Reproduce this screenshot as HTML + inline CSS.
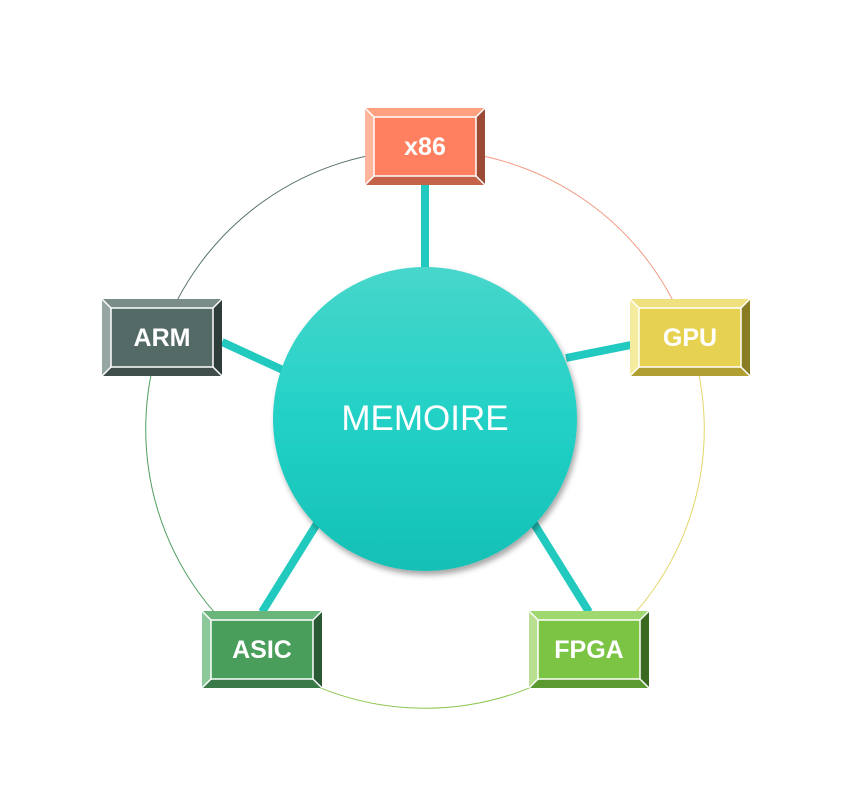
<!DOCTYPE html>
<html><head><style>body{margin:0;background:#fff}svg{display:block}</style></head><body>
<svg width="850" height="810" viewBox="0 0 850 810" xmlns="http://www.w3.org/2000/svg">
<defs>
<linearGradient id="cg" x1="0" y1="0" x2="0" y2="1"><stop offset="0" stop-color="#48d6cb"/><stop offset="0.5" stop-color="#22d1c6"/><stop offset="1" stop-color="#14c0b5"/></linearGradient>
<filter id="sh" x="-20%" y="-20%" width="140%" height="140%"><feDropShadow dx="2" dy="4" stdDeviation="3" flood-color="#000" flood-opacity="0.35"/></filter>
<g id="bev">
</g>
</defs>
<g fill="none" stroke-width="1">
<path d="M425,150 A279,279 0 0 1 689,338" stroke="#f29a82"/>
<path d="M689,338 A279,279 0 0 1 593,652" stroke="#e3d66a"/>
<path d="M593,652 A279,279 0 0 1 257,652" stroke="#8cc850"/>
<path d="M257,652 A279,279 0 0 1 161,338" stroke="#4f9e60"/>
<path d="M161,338 A279,279 0 0 1 425,150" stroke="#55706b"/>
</g>
<g stroke="#22c9be" stroke-width="8">
<line x1="425" y1="184" x2="425" y2="270"/>
<line x1="566" y1="358" x2="631" y2="345"/>
<line x1="533" y1="522" x2="589" y2="612"/>
<line x1="318" y1="522" x2="262" y2="612"/>
<line x1="222" y1="342" x2="285" y2="371"/>
</g>
<circle cx="425" cy="419" r="152" fill="url(#cg)" filter="url(#sh)"/>
<text x="425" y="430" text-anchor="middle" font-family="Liberation Sans, sans-serif" font-size="35" fill="#fff">MEMOIRE</text>

<g font-family="Liberation Sans, sans-serif" font-weight="bold" font-size="25" fill="#fff" text-anchor="middle">
<g transform="translate(365,108)">
<rect x="0" y="0" width="120" height="77" fill="#ff8060"/>
<polygon points="0,0 120,0 111,9 9,9" fill="#ffa080"/><polygon points="0,0 9,9 9,68 0,77" fill="#ffb49c"/>
<polygon points="120,0 120,77 111,68 111,9" fill="#9a4a35"/><polygon points="0,77 9,68 111,68 120,77" fill="#c4624a"/>
<rect x="9" y="9" width="102" height="59" fill="none" stroke="#fff" stroke-width="1.5"/>
<g stroke="#fff" stroke-width="1.5"><line x1="0" y1="0" x2="9" y2="9"/><line x1="120" y1="0" x2="111" y2="9"/><line x1="0" y1="77" x2="9" y2="68"/><line x1="120" y1="77" x2="111" y2="68"/></g>
<text x="60" y="47">x86</text></g>

<g transform="translate(630,299)">
<rect x="0" y="0" width="120" height="77" fill="#e6d250"/>
<polygon points="0,0 120,0 111,9 9,9" fill="#efe080"/><polygon points="0,0 9,9 9,68 0,77" fill="#f5eca0"/>
<polygon points="120,0 120,77 111,68 111,9" fill="#8a7c22"/><polygon points="0,77 9,68 111,68 120,77" fill="#b0a032"/>
<rect x="9" y="9" width="102" height="59" fill="none" stroke="#fff" stroke-width="1.5"/>
<g stroke="#fff" stroke-width="1.5"><line x1="0" y1="0" x2="9" y2="9"/><line x1="120" y1="0" x2="111" y2="9"/><line x1="0" y1="77" x2="9" y2="68"/><line x1="120" y1="77" x2="111" y2="68"/></g>
<text x="60" y="47">GPU</text></g>

<g transform="translate(529,611)">
<rect x="0" y="0" width="120" height="77" fill="#7cc444"/>
<polygon points="0,0 120,0 111,9 9,9" fill="#a0d870"/><polygon points="0,0 9,9 9,68 0,77" fill="#b8e090"/>
<polygon points="120,0 120,77 111,68 111,9" fill="#3a6a20"/><polygon points="0,77 9,68 111,68 120,77" fill="#5a9a30"/>
<rect x="9" y="9" width="102" height="59" fill="none" stroke="#fff" stroke-width="1.5"/>
<g stroke="#fff" stroke-width="1.5"><line x1="0" y1="0" x2="9" y2="9"/><line x1="120" y1="0" x2="111" y2="9"/><line x1="0" y1="77" x2="9" y2="68"/><line x1="120" y1="77" x2="111" y2="68"/></g>
<text x="60" y="47">FPGA</text></g>

<g transform="translate(202,611)">
<rect x="0" y="0" width="120" height="77" fill="#4a9e5c"/>
<polygon points="0,0 120,0 111,9 9,9" fill="#6ab57a"/><polygon points="0,0 9,9 9,68 0,77" fill="#8cc89a"/>
<polygon points="120,0 120,77 111,68 111,9" fill="#2a5a35"/><polygon points="0,77 9,68 111,68 120,77" fill="#3a7a48"/>
<rect x="9" y="9" width="102" height="59" fill="none" stroke="#fff" stroke-width="1.5"/>
<g stroke="#fff" stroke-width="1.5"><line x1="0" y1="0" x2="9" y2="9"/><line x1="120" y1="0" x2="111" y2="9"/><line x1="0" y1="77" x2="9" y2="68"/><line x1="120" y1="77" x2="111" y2="68"/></g>
<text x="60" y="47">ASIC</text></g>

<g transform="translate(102,299)">
<rect x="0" y="0" width="120" height="77" fill="#546a66"/>
<polygon points="0,0 120,0 111,9 9,9" fill="#7a8c88"/><polygon points="0,0 9,9 9,68 0,77" fill="#96a6a2"/>
<polygon points="120,0 120,77 111,68 111,9" fill="#2e3c3a"/><polygon points="0,77 9,68 111,68 120,77" fill="#404f4c"/>
<rect x="9" y="9" width="102" height="59" fill="none" stroke="#fff" stroke-width="1.5"/>
<g stroke="#fff" stroke-width="1.5"><line x1="0" y1="0" x2="9" y2="9"/><line x1="120" y1="0" x2="111" y2="9"/><line x1="0" y1="77" x2="9" y2="68"/><line x1="120" y1="77" x2="111" y2="68"/></g>
<text x="60" y="47">ARM</text></g>
</g>
</svg>
</body></html>
